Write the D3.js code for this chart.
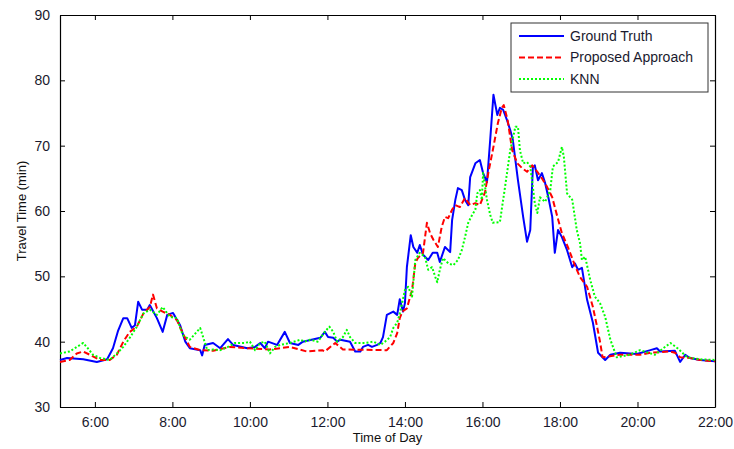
<!DOCTYPE html>
<html>
<head>
<meta charset="utf-8">
<script src="https://cdn.jsdelivr.net/npm/d3@7"></script>
<style>
  body { margin: 0; background: #fff; }
  svg { font-family: Arial, "Liberation Sans", sans-serif; }
  .axis text { font-size: 14px; fill: #1a1a2e; }
  .axis path, .axis line { stroke: #000; }
</style>
</head>
<body>
<svg id="chart"></svg>
<script>
// Ground truth travel time (min) vs time of day
const gtTimes = ['5:06','5:17','5:42','6:03','6:19','6:28','6:36','6:44','6:50','6:57','7:02','7:07','7:13','7:21','7:25','7:36','7:45','7:52','8:01','8:12','8:20','8:27','8:43','8:46','8:50','9:03','9:14','9:26','9:34','9:56','10:08','10:16','10:23','10:28','10:42','10:54','11:02','11:15','11:22','11:49','11:56','12:01','12:09','12:15','12:20','12:35','12:43','12:51','12:55','13:03','13:09','13:17','13:22','13:26','13:32','13:42','13:48','13:52','13:57','14:00','14:03','14:09','14:13','14:19','14:23','14:28','14:36','14:43','14:50','14:54','15:02','15:10','15:13','15:18','15:22','15:28','15:33','15:38','15:41','15:49','15:56','16:01','16:07','16:12','16:17','16:23','16:27','16:32','16:38','16:43','16:47','16:55','17:03','17:09','17:14','17:18','17:21','17:26','17:32','17:37','17:42','17:48','17:52','17:57','18:03','18:11','18:19','18:23','18:28','18:34','18:42','18:51','18:59','19:10','19:18','19:33','19:59','20:20','20:30','20:35','20:58','21:06','21:14','21:21','21:37','22:00'];
const gtValues = [37.2,37.5,37.3,36.9,37.3,39.0,41.7,43.6,43.6,42.1,42.5,46.1,44.9,44.9,45.6,43.6,41.5,44.1,44.4,42.5,40.0,39.0,38.7,37.9,39.5,39.8,39.0,40.4,39.5,39.0,39.2,39.8,39.0,40.0,39.5,41.5,39.8,39.5,40.0,40.6,41.5,40.7,40.6,40.0,40.3,40.0,38.5,38.5,39.2,39.5,39.2,39.5,39.8,40.7,44.1,44.6,44.1,46.5,44.6,45.9,51.4,56.3,54.5,53.6,54.8,53.3,52.5,53.6,53.6,52.2,54.5,53.7,58.6,61.7,63.5,63.2,61.7,60.9,65.2,67.3,67.8,65.8,64.4,70.9,77.8,74.7,75.8,75.5,73.9,72.4,70.9,64.7,59.1,55.3,57.1,66.6,67.0,64.7,65.8,64.3,62.1,59.1,53.6,57.1,56.0,54.0,51.4,52.0,51.0,51.3,46.4,42.9,38.3,37.2,38.0,38.3,38.1,38.7,39.0,38.5,38.6,36.9,38.0,37.5,37.2,37.0];

// Proposed approach
const paTimes = ['5:06','5:21','5:32','5:42','5:52','6:08','6:23','6:34','6:44','6:54','7:05','7:15','7:25','7:30','7:36','7:45','7:56','8:07','8:16','8:27','8:43','9:03','9:29','9:56','10:31','11:02','11:28','11:52','11:56','12:12','12:24','13:32','13:42','13:48','13:52','13:56','14:03','14:11','14:16','14:20','14:28','14:34','14:39','14:44','14:51','14:57','15:02','15:07','15:13','15:18','15:25','15:33','15:41','15:49','15:56','16:04','16:09','16:16','16:24','16:30','16:33','16:39','16:46','16:54','17:01','17:09','17:17','17:25','17:32','17:40','17:48','17:56','18:03','18:13','18:23','18:31','18:42','18:51','18:57','19:02','19:06','19:33','20:04','20:20','20:51','20:58','21:06','21:21','21:37','22:00'];
const paValues = [36.9,37.2,38.2,38.5,38.0,37.2,37.2,38.0,40.0,41.5,42.3,44.3,45.3,47.2,45.1,44.6,44.1,43.3,41.3,39.2,38.7,38.6,39.2,39.0,38.8,39.2,38.5,38.7,38.5,39.8,38.8,38.7,39.8,41.3,43.6,44.6,45.1,47.9,52.0,52.8,53.6,58.2,56.6,55.6,54.5,57.6,59.1,58.9,60.2,60.9,60.6,62.0,60.9,61.2,60.9,62.9,65.8,69.3,73.5,75.8,76.2,73.9,69.3,67.3,66.6,66.0,67.0,66.0,65.0,63.7,62.1,59.1,56.6,54.3,51.7,49.9,48.4,45.3,42.5,40.0,37.6,38.0,38.0,38.3,38.5,38.3,37.6,37.5,37.2,37.0];

// KNN
const knnTimes = ['5:06','5:21','5:32','5:42','5:49','5:57','6:08','6:23','6:34','6:44','6:54','7:05','7:15','7:25','7:36','7:45','7:56','8:07','8:16','8:27','8:43','8:54','9:03','9:14','9:26','9:37','9:52','10:00','10:08','10:16','10:23','10:31','10:39','10:47','11:02','11:18','11:25','11:33','11:45','11:56','12:03','12:09','12:15','12:24','12:30','12:35','12:43','12:58','13:11','13:22','13:29','13:37','13:42','13:48','13:52','14:00','14:05','14:11','14:16','14:23','14:31','14:36','14:42','14:47','14:50','14:54','14:59','15:07','15:15','15:22','15:28','15:33','15:38','15:44','15:49','15:52','15:56','15:59','16:01','16:07','16:12','16:16','16:27','16:35','16:43','16:51','16:55','16:58','17:03','17:09','17:14','17:18','17:21','17:25','17:29','17:37','17:45','17:49','17:57','18:03','18:06','18:11','18:19','18:23','18:26','18:31','18:34','18:39','18:47','18:54','19:02','19:10','19:18','19:28','19:48','20:04','20:27','20:40','20:51','21:02','21:17','21:37','22:00'];
const knnValues = [38.2,38.5,39.2,39.8,39.0,38.0,37.5,37.2,38.2,39.2,40.6,42.3,44.3,44.9,44.1,45.3,43.8,43.6,41.0,40.3,42.1,38.7,38.8,38.7,39.2,39.8,39.8,40.0,38.7,39.8,40.0,38.2,39.2,39.5,39.8,40.3,40.0,40.3,40.0,41.5,42.3,41.5,40.0,40.7,41.8,40.7,39.8,39.8,40.0,39.5,40.0,40.7,42.1,42.9,44.3,47.9,48.4,46.9,52.5,53.6,53.0,51.0,51.4,49.9,49.1,51.0,52.8,52.0,51.7,52.5,54.0,56.0,58.2,59.4,60.2,62.7,63.2,61.7,65.8,61.7,59.4,58.2,58.3,63.7,69.3,72.9,72.9,69.3,67.3,67.5,66.8,63.7,61.2,59.7,62.1,61.4,63.2,66.8,67.5,69.8,68.3,62.7,61.7,59.1,57.1,55.1,52.5,53.0,49.4,46.9,45.9,43.8,40.3,37.6,38.0,38.7,38.0,39.0,39.8,39.0,37.6,37.3,37.2];

const yTicks = [30, 40, 50, 60, 70, 80, 90];

const width = 734;
const height = 449;
const margin = { top: 15, right: 19, bottom: 42, left: 60 };
const innerW = width - margin.left - margin.right;
const innerH = height - margin.top - margin.bottom;

const parseTime = d3.timeParse('%H:%M');

const series = [
  { name: 'Ground Truth', times: gtTimes, values: gtValues, color: '#0000ff', dash: null },
  { name: 'Proposed Approach', times: paTimes, values: paValues, color: '#ff0000', dash: '6,3' },
  { name: 'KNN', times: knnTimes, values: knnValues, color: '#00ff00', dash: '2,2' },
];
series.forEach((s) => {
  s.points = s.times.map((t, i) => ({ t: parseTime(t), v: s.values[i] }));
});

const svg = d3.select('#chart')
  .attr('width', width)
  .attr('height', height);

const chart = svg.append('g')
  .attr('transform', `translate(${margin.left},${margin.top})`);

const xScale = d3.scaleTime()
  .domain([parseTime('5:06'), parseTime('22:00')])
  .range([0, innerW]);

const yScale = d3.scaleLinear()
  .domain([30, 90])
  .range([innerH, 0]);

const xTickVals = d3.timeHour.every(2).range(parseTime('6:00'), parseTime('22:01'));

// axes: ticks point inward, mirrored on top and right (box style)
const xAxis = d3.axisBottom(xScale)
  .tickValues(xTickVals)
  .tickFormat(d3.timeFormat('%-H:%M'))
  .tickSizeInner(-5)
  .tickSizeOuter(0)
  .tickPadding(10);

const yAxis = d3.axisLeft(yScale)
  .tickValues(yTicks)
  .tickSizeInner(-5)
  .tickSizeOuter(0)
  .tickPadding(10);

chart.append('g')
  .attr('class', 'axis x-axis')
  .attr('transform', `translate(0,${innerH})`)
  .call(xAxis);

chart.append('g')
  .attr('class', 'axis y-axis')
  .call(yAxis);

chart.append('g')
  .attr('class', 'axis')
  .call(d3.axisTop(xScale).tickValues(xTickVals).tickFormat('').tickSizeInner(-5).tickSizeOuter(0));

chart.append('g')
  .attr('class', 'axis')
  .attr('transform', `translate(${innerW},0)`)
  .call(d3.axisRight(yScale).tickValues(yTicks).tickFormat('').tickSizeInner(-5).tickSizeOuter(0));

chart.selectAll('.axis .domain').attr('stroke-width', 1.2);

// lines
const line = d3.line()
  .x((d) => xScale(d.t))
  .y((d) => yScale(d.v));

chart.selectAll('.series')
  .data(series)
  .join('path')
  .attr('class', 'series')
  .attr('fill', 'none')
  .attr('stroke', (d) => d.color)
  .attr('stroke-width', 2)
  .attr('stroke-linejoin', 'round')
  .attr('stroke-dasharray', (d) => d.dash)
  .attr('d', (d) => line(d.points));

// axis titles
svg.append('text')
  .attr('x', margin.left + innerW / 2)
  .attr('y', 442)
  .attr('text-anchor', 'middle')
  .style('font-size', '13px')
  .attr('fill', '#111')
  .text('Time of Day');

svg.append('text')
  .attr('transform', `translate(26,${margin.top + innerH / 2}) rotate(-90)`)
  .attr('text-anchor', 'middle')
  .style('font-size', '13px')
  .attr('fill', '#111')
  .text('Travel Time (min)');

// legend
const legend = svg.append('g').attr('transform', 'translate(511,23)');
legend.append('rect')
  .attr('width', 197)
  .attr('height', 69)
  .attr('fill', '#fff')
  .attr('stroke', '#333')
  .attr('stroke-width', 1);

series.forEach((s, i) => {
  const ly = 13 + i * 21.5;
  legend.append('line')
    .attr('x1', 8).attr('x2', 53)
    .attr('y1', ly).attr('y2', ly)
    .attr('stroke', s.color)
    .attr('stroke-width', 2)
    .attr('stroke-dasharray', s.dash);
  legend.append('text')
    .attr('x', 59)
    .attr('y', ly)
    .attr('dy', '0.35em')
    .style('font-size', '14px')
    .attr('fill', '#1a1a2e')
    .text(s.name);
});
</script>
</body>
</html>
